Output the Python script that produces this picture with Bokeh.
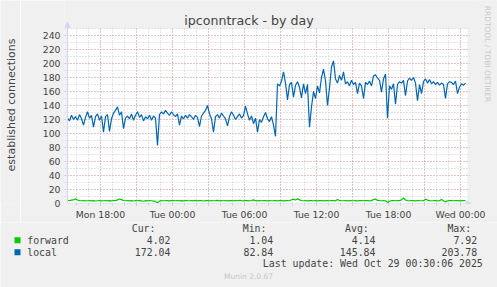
from bokeh.plotting import figure
from bokeh.layouts import column, row
from bokeh.models import (Range1d, FixedTicker, Label, Arrow, NormalHead, BoxAnnotation)
from bokeh.embed import file_html
from bokeh.resources import INLINE

# ---------------- data ----------------
START_HOUR = 15.25          # Mon 15:15 (hours since Mon 00:00)
END_HOUR = 48.5833          # Wed 00:35
STEP_MIN = 10               # sample spacing in minutes

local = [
    122, 118, 126, 120, 124, 119, 127, 121, 112, 123,
    131, 122, 126, 109, 124, 128, 119, 125, 102, 124,
    127, 103, 121, 129, 133, 138, 126, 131, 107, 122,
    125, 121, 128, 119, 126, 131, 123, 127, 118, 124,
    121, 126, 119, 125, 122, 82.84, 127, 131, 128, 133,
    129, 126, 131, 127, 124, 128, 112, 125, 121, 126,
    122, 127, 124, 120, 126, 123, 110, 125, 129, 133,
    140, 128, 121, 102, 124, 127, 122, 129, 125, 121,
    111, 124, 131, 126, 120, 124, 128, 122, 126, 139,
    128, 119, 125, 114, 122, 102, 120, 116, 124, 130,
    121, 117, 124, 112, 96, 171, 168, 175, 188, 172,
    148, 170, 173, 152, 169, 174, 166, 151, 171, 157,
    170, 109, 138, 160, 150, 168, 158, 180, 192, 175,
    140, 165, 195, 203.78, 178, 172, 183, 176, 188, 171,
    174, 168, 176, 170, 173, 157, 172, 168, 150, 173,
    170, 175, 168, 182, 184, 179, 176, 159, 178, 185,
    122, 168, 163, 171, 142, 170, 174, 172, 176, 154,
    175, 179, 176, 180, 172, 147, 170, 157, 174, 178,
    172, 177, 171, 174, 170, 173, 169, 172, 170, 150,
    171, 174, 173, 170, 175, 157, 166, 171, 169, 172.04,
]

forward = [
    4.6, 4.2, 4.8, 5.1, 6.6, 5.0, 4.1, 3.9, 4.0, 3.7,
    3.9, 4.1, 3.8, 4.0, 3.6, 3.9, 4.2, 3.8, 3.9, 4.0,
    3.8, 4.1, 3.7, 4.3, 4.0, 5.2, 6.4, 5.6, 4.3, 3.9,
    4.1, 3.8, 4.2, 3.6, 4.0, 3.9, 4.4, 3.7, 3.2, 4.0,
    3.8, 4.3, 3.9, 3.5, 3.0, 1.04, 3.4, 4.1, 3.9, 4.0,
    4.2, 3.8, 4.0, 4.1, 3.9, 4.3, 3.7, 4.0, 3.8, 4.2,
    4.0, 3.9, 4.1, 3.7, 4.4, 3.8, 4.0, 4.2, 3.6, 4.0,
    4.1, 3.8, 4.3, 3.9, 4.0, 4.5, 3.7, 4.1, 3.9, 4.0,
    3.7, 4.2, 4.0, 3.8, 4.1, 3.9, 4.6, 4.0, 3.8, 4.2,
    4.0, 3.7, 4.3, 5.2, 4.0, 3.8, 4.1, 3.9, 4.2, 4.0,
    3.8, 4.1, 3.9, 4.0, 4.3, 3.7, 4.0, 4.2, 3.8, 4.1,
    4.0, 3.9, 5.4, 6.2, 5.0, 6.6, 5.2, 4.3, 3.9, 4.1,
    3.8, 4.0, 4.2, 3.9, 4.1, 3.7, 4.0, 4.3, 3.8, 4.0,
    4.2, 3.9, 4.1, 4.0, 3.8, 5.8, 4.3, 4.0, 3.9, 4.1,
    3.8, 4.2, 4.0, 3.9, 4.1, 3.7, 4.0, 4.2, 3.9, 4.1,
    4.0, 3.8, 4.1, 5.6, 6.3, 4.4, 4.0, 3.9, 4.1, 3.8,
    1.6, 3.2, 4.0, 4.2, 3.9, 4.1, 4.0, 5.2, 7.92, 5.0,
    4.2, 3.9, 4.1, 4.0, 3.8, 4.2, 4.0, 3.9, 4.1, 6.2,
    5.0, 4.1, 3.9, 4.0, 4.2, 3.8, 4.1, 5.6, 4.0, 2.2,
    3.8, 4.1, 4.0, 3.9, 4.2, 4.0, 3.8, 4.1, 4.0, 4.02,
]

hours = [START_HOUR + i * STEP_MIN / 60 for i in range(len(local))]

TICK_HOURS = [18, 24, 30, 36, 42, 48]
TICK_LABELS = ["Mon 18:00", "Tue 00:00", "Tue 06:00", "Tue 12:00", "Tue 18:00", "Wed 00:00"]
GRID_HOURS = [18, 21, 24, 27, 30, 33, 36, 39, 42, 45, 48]
MINOR_HOURS = list(range(16, 49))
Y_TICKS = list(range(0, 241, 20))
Y_MINOR = list(range(0, 251, 10))
Y_TOP = 250

TITLE = "ipconntrack - by day"
Y_LABEL = "established connections"
SERIES = ["forward", "local"]
COLORS = ["#00CC00", "#0066B3"]
CUR = ["4.02", "172.04"]
MIN = ["1.04", "82.84"]
AVG = ["4.14", "145.84"]
MAX = ["7.92", "203.78"]
LAST_UPDATE = "Last update: Wed Oct 29 00:30:06 2025"

# ---------------- styling ----------------
FONT = "DejaVu Sans"
MONO = "DejaVu Sans Mono"
TXT = "#444444"
BG = "#F0F0F0"
AXIS = "#CFD6F8"
MGRID = "#e0a0a0"
GRID = "#cccccc"
FAINT = "#c8c8c8"

LEFT_W = 20                 # strip holding the rotated y label
F_L, F_B = 64, 203          # frame left / bottom in canvas px (12 px/hour, 0.7 px/unit)

# ---------------- y label strip ----------------
lf = figure(width=LEFT_W, height=222, output_backend="svg", toolbar_location=None, title=None,
            x_range=Range1d(0, LEFT_W), y_range=Range1d(222, 0), min_border=0,
            background_fill_color=BG, border_fill_color=BG, outline_line_color=None)
lf.axis.visible = False
lf.grid.visible = False
lf.add_layout(Label(x=10.8, y=114.2, text=Y_LABEL, angle=1.5708, text_align="center",
                    text_baseline="middle", text_font=FONT, text_font_size="11px",
                    text_color=TXT))

# ---------------- main plot ----------------
p = figure(width=497 - LEFT_W, height=222, output_backend="svg", toolbar_location=None,
           title=None,
           x_range=Range1d(15.0, 15.0 + (497 - F_L) / 12), y_range=Range1d(0, F_B / 0.7),
           min_border_left=F_L - LEFT_W, min_border_right=0, min_border_top=0,
           min_border_bottom=19,
           background_fill_color=BG, border_fill_color=BG, outline_line_color=None)

# white canvas below the grids
p.add_layout(BoxAnnotation(left=START_HOUR, right=END_HOUR, bottom=0, top=Y_TOP,
                           fill_color="white", fill_alpha=1, line_alpha=0, level="image"))

xa = p.xaxis[0]
xa.ticker = FixedTicker(ticks=GRID_HOURS, minor_ticks=MINOR_HOURS)
overrides = {h: "" for h in GRID_HOURS}
for h, lbl in zip(TICK_HOURS, TICK_LABELS):
    overrides[h] = lbl
xa.major_label_overrides = overrides
xa.axis_line_color = None
xa.major_tick_line_color = MGRID
xa.major_tick_out = 2
xa.major_tick_in = 0
xa.minor_tick_line_color = GRID
xa.minor_tick_out = 2
xa.minor_tick_in = 0
xa.major_label_text_font = FONT
xa.major_label_text_font_size = "9.3px"
xa.major_label_text_color = TXT
xa.major_label_standoff = 3

ya = p.yaxis[0]
ya.ticker = FixedTicker(ticks=Y_TICKS, minor_ticks=Y_MINOR)
ya.axis_line_color = None
ya.major_tick_line_color = None
ya.major_tick_out = 0
ya.major_tick_in = 0
ya.minor_tick_line_color = None
ya.minor_tick_out = 0
ya.minor_tick_in = 0
ya.major_label_text_font = FONT
ya.major_label_text_font_size = "9.3px"
ya.major_label_text_color = TXT
ya.major_label_standoff = 4

for g in (p.xgrid[0], p.ygrid[0]):
    g.grid_line_color = MGRID
    g.grid_line_dash = "1 2"
    g.minor_grid_line_color = GRID
    g.minor_grid_line_dash = "1 2"

# data lines
p.line(hours, forward, line_color=COLORS[0], line_width=1.2)
p.line(hours, local, line_color=COLORS[1], line_width=1.2)

# hide grid outside the canvas (above and right)
p.add_layout(BoxAnnotation(bottom=Y_TOP + 1, fill_color=BG, fill_alpha=1, line_alpha=0))
p.add_layout(BoxAnnotation(left=END_HOUR + 0.17, fill_color=BG, fill_alpha=1, line_alpha=0))

# axis lines with arrows
p.add_layout(Arrow(end=NormalHead(size=5, fill_color=AXIS, line_color=AXIS),
                   x_start=START_HOUR, y_start=0, x_end=START_HOUR, y_end=259,
                   line_color=AXIS, line_width=1))
p.add_layout(Arrow(end=NormalHead(size=5, fill_color=AXIS, line_color=AXIS),
                   x_start=START_HOUR, y_start=0, x_end=48.9, y_end=0,
                   line_color=AXIS, line_width=1))


def plab(text, x, y, align="center", font=FONT, size="9.9px", color=TXT, angle=0.0):
    # x, y in canvas pixels (converted to frame-relative screen units)
    p.add_layout(Label(x=x - F_L, y=F_B - y, x_units="screen", y_units="screen", text=text,
                       text_align=align, text_baseline="middle", text_font=font,
                       text_font_size=size, text_color=color, angle=angle))


plab(TITLE, 248.5, 19.5, size="12.6px")
plab("RRDTOOL / TOBI OETIKER", 487, 53.5, size="7.5px", color=FAINT, angle=-1.5708)

# ---------------- legend / stats area ----------------
q = figure(width=497, height=65, output_backend="svg", toolbar_location=None, title=None,
           x_range=Range1d(0, 497), y_range=Range1d(287, 222),
           min_border=0, background_fill_color=BG, border_fill_color=BG,
           outline_line_color=None)
q.axis.visible = False
q.grid.visible = False


def lab(text, x, y, align="right", font=MONO, size="9.9px", color=TXT):
    q.add_layout(Label(x=x, y=y, text=text, text_align=align, text_baseline="middle",
                       text_font=font, text_font_size=size, text_color=color))


rows_y = [239.7, 251.7]
for name, col, ypx in zip(SERIES, COLORS, rows_y):
    q.add_layout(BoxAnnotation(left=14, right=20, top=ypx + 3, bottom=ypx - 3,
                               fill_color=col, fill_alpha=1, line_alpha=0))
    lab(name, 26.7, ypx, align="left")

headers = ["Cur:", "Min:", "Avg:", "Max:"]
header_right = [155, 266, 368.3, 470.7]
value_right = [170, 272.7, 375, 476.7]
for h, hx in zip(headers, header_right):
    lab(h, hx, 227.7)
for r, ypx in enumerate(rows_y):
    for col_vals, vx in zip([CUR, MIN, AVG, MAX], value_right):
        lab(col_vals[r], vx, ypx)
lab(LAST_UPDATE, 482.3, 263.3)
lab("Munin 2.0.67", 248, 276, align="center", font=FONT, size="7.5px", color=FAINT)

layout = column(row(lf, p, spacing=0), q, spacing=0)
open("out.html", "w").write(file_html(layout, INLINE))
